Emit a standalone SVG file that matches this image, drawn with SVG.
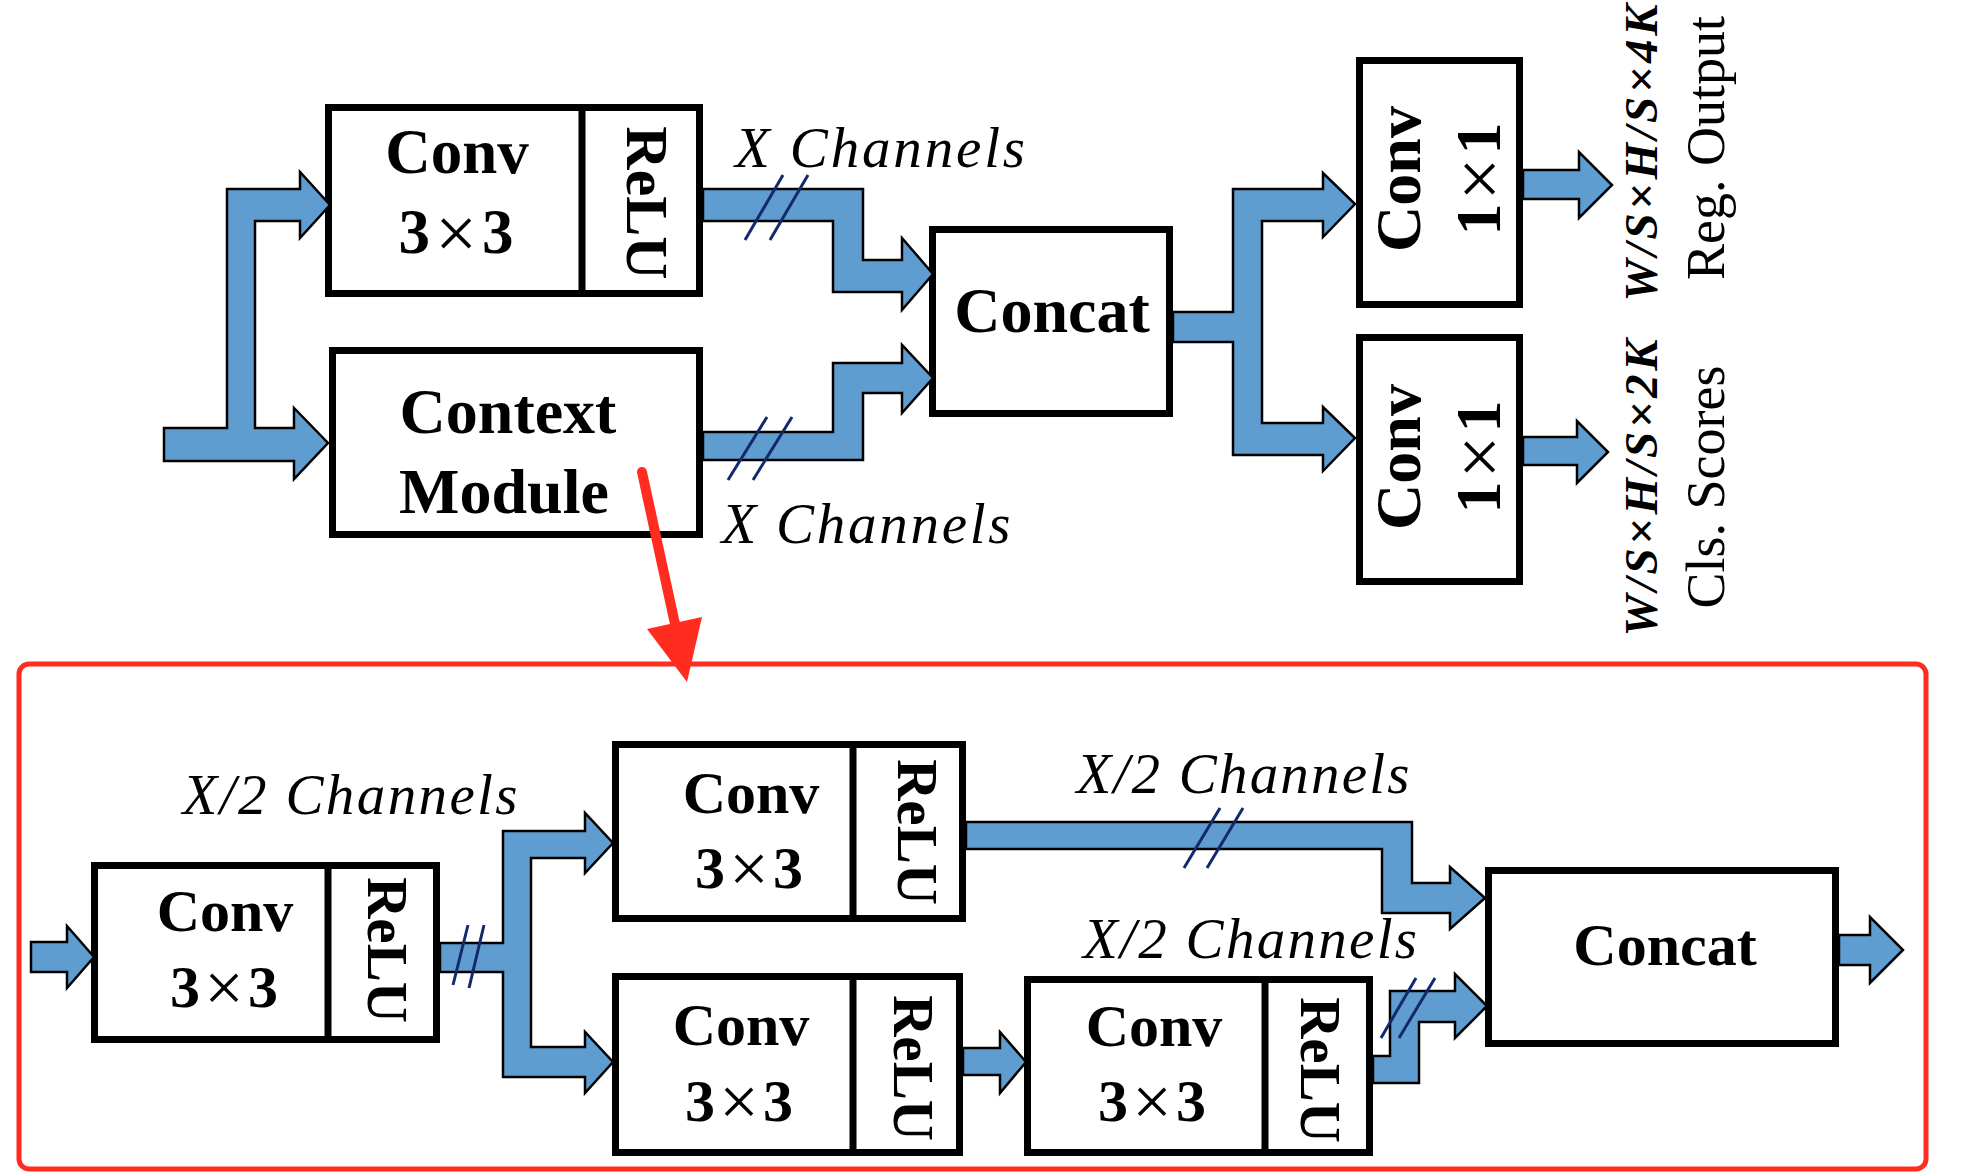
<svg xmlns="http://www.w3.org/2000/svg" width="1972" height="1174" viewBox="0 0 1972 1174">
<style>
.box{fill:#fff;stroke:#000;stroke-width:7}
.dv{stroke:#000;stroke-width:7}
.arr{fill:#5f9dd1;stroke:#000;stroke-width:2.5;stroke-linejoin:miter}
.sl{stroke:#13296b;stroke-width:3;fill:none}
.b{font-family:"Liberation Serif","Times New Roman",serif;font-weight:bold;fill:#000;text-anchor:middle}
.i{font-family:"Liberation Serif","Times New Roman",serif;font-style:italic;fill:#000;text-anchor:middle}
.r{font-family:"Liberation Serif","Times New Roman",serif;fill:#000;text-anchor:middle}
.bi{font-family:"Liberation Serif","Times New Roman",serif;font-weight:bold;font-style:italic;fill:#000;text-anchor:middle}
.x{font-weight:normal}
</style>
<rect width="1972" height="1174" fill="#fff"/>

<g id="context-frame">
<rect x="19" y="664" width="1907" height="505" rx="10" fill="none" stroke="#ff2c1f" stroke-width="5"/>
</g>

<g id="conv3x3-top">
<rect class="box" x="328.5" y="107.5" width="371" height="186"/>
<line class="dv" x1="582" y1="107.5" x2="582" y2="293.5"/>
<text class="b" x="457" y="173" font-size="63">Conv</text>
<text class="b" x="456" y="253" font-size="63" textLength="115" lengthAdjust="spacing">3<tspan class="x" font-size="74" dy="5">×</tspan><tspan dy="-5">3</tspan></text>
<text class="b" font-size="60" transform="translate(627,203) rotate(90)">ReLU</text>
</g>

<g id="context-module">
<rect class="box" x="332.5" y="350.5" width="367" height="184"/>
<text class="b" x="508" y="433" font-size="64">Context</text>
<text class="b" x="504" y="513" font-size="64">Module</text>
</g>

<g id="concat-top">
<rect class="box" x="932.5" y="229.5" width="237" height="184"/>
<text class="b" x="1052" y="332" font-size="64">Concat</text>
</g>

<g id="conv1x1-reg">
<rect class="box" x="1359.5" y="60.5" width="160" height="244"/>
<text class="b" font-size="64" transform="translate(1420,179) rotate(-90)">Conv</text>
<text class="b" font-size="64" textLength="113" lengthAdjust="spacing" transform="translate(1500,179) rotate(-90)">1<tspan class="x" font-size="76" dy="5">×</tspan><tspan dy="-5">1</tspan></text>
</g>

<g id="conv1x1-cls">
<rect class="box" x="1359.5" y="337.5" width="160" height="244"/>
<text class="b" font-size="64" transform="translate(1420,457) rotate(-90)">Conv</text>
<text class="b" font-size="64" textLength="113" lengthAdjust="spacing" transform="translate(1500,457) rotate(-90)">1<tspan class="x" font-size="76" dy="5">×</tspan><tspan dy="-5">1</tspan></text>
</g>

<g id="output-labels">
<text class="bi" font-size="47" textLength="297" lengthAdjust="spacing" transform="translate(1657,153) rotate(-90)">W/S×H/S×4K</text>
<text class="r" font-size="54" transform="translate(1724,148) rotate(-90)">Reg. Output</text>
<text class="bi" font-size="47" textLength="297" lengthAdjust="spacing" transform="translate(1657,488) rotate(-90)">W/S×H/S×2K</text>
<text class="r" font-size="54" transform="translate(1724,487) rotate(-90)">Cls. Scores</text>
</g>

<g id="cm-conv1">
<rect class="box" x="94.5" y="865.5" width="342" height="174"/>
<line class="dv" x1="328" y1="865.5" x2="328" y2="1039.5"/>
<text class="b" x="225" y="931" font-size="60">Conv</text>
<text class="b" x="224" y="1007" font-size="60" textLength="108" lengthAdjust="spacing">3<tspan class="x" font-size="70" dy="4">×</tspan><tspan dy="-4">3</tspan></text>
<text class="b" font-size="57" transform="translate(368,950) rotate(90)">ReLU</text>
</g>

<g id="cm-conv2">
<rect class="box" x="615.5" y="744.5" width="347" height="174"/>
<line class="dv" x1="853" y1="744.5" x2="853" y2="918.5"/>
<text class="b" x="751" y="813" font-size="60">Conv</text>
<text class="b" x="749" y="888" font-size="60" textLength="108" lengthAdjust="spacing">3<tspan class="x" font-size="70" dy="4">×</tspan><tspan dy="-4">3</tspan></text>
<text class="b" font-size="57" transform="translate(898,832) rotate(90)">ReLU</text>
</g>

<g id="cm-conv3">
<rect class="box" x="615.5" y="976.5" width="344" height="176"/>
<line class="dv" x1="853" y1="976.5" x2="853" y2="1152.5"/>
<text class="b" x="741" y="1045" font-size="60">Conv</text>
<text class="b" x="739" y="1121" font-size="60" textLength="108" lengthAdjust="spacing">3<tspan class="x" font-size="70" dy="4">×</tspan><tspan dy="-4">3</tspan></text>
<text class="b" font-size="57" transform="translate(894,1068) rotate(90)">ReLU</text>
</g>

<g id="cm-conv4">
<rect class="box" x="1027.5" y="979.5" width="342" height="173"/>
<line class="dv" x1="1265" y1="979.5" x2="1265" y2="1152.5"/>
<text class="b" x="1154" y="1046" font-size="60">Conv</text>
<text class="b" x="1152" y="1121" font-size="60" textLength="108" lengthAdjust="spacing">3<tspan class="x" font-size="70" dy="4">×</tspan><tspan dy="-4">3</tspan></text>
<text class="b" font-size="57" transform="translate(1301,1070) rotate(90)">ReLU</text>
</g>

<g id="cm-concat">
<rect class="box" x="1488.5" y="870.5" width="347" height="173"/>
<text class="b" x="1665" y="965" font-size="60">Concat</text>
</g>

<g id="connectors">
<path class="arr" d="M164,428 L227,428 L227,189 L300,189 L300,172 L330,205 L300,238 L300,221 L255,221 L255,428 L294,428 L294,408 L328,443 L294,479 L294,461 L164,461 Z"/>
<path class="arr" d="M703,189 L863,189 L863,260 L902,260 L902,238 L933,274 L902,310 L902,292 L833,292 L833,221 L703,221 Z"/>
<path class="arr" d="M703,432 L833,432 L833,363 L902,363 L902,345 L933,378 L902,413 L902,393 L863,393 L863,460 L703,460 Z"/>
<path class="arr" d="M1173,312 L1233,312 L1233,189 L1323,189 L1323,173 L1355,204 L1323,237 L1323,221 L1262,221 L1262,423 L1323,423 L1323,407 L1355,438 L1323,471 L1323,455 L1233,455 L1233,342 L1173,342 Z"/>
<path class="arr" d="M1523,170 L1579,170 L1579,152 L1612,185 L1579,218 L1579,199 L1523,199 Z"/>
<path class="arr" d="M1523,437 L1577,437 L1577,421 L1608,452 L1577,483 L1577,465 L1523,465 Z"/>
<line class="sl" x1="783" y1="175" x2="745" y2="240"/>
<line class="sl" x1="808" y1="175" x2="770" y2="240"/>
<line class="sl" x1="767" y1="417" x2="728" y2="480"/>
<line class="sl" x1="792" y1="417" x2="753" y2="480"/>
<text class="i" x="880" y="167" font-size="57" textLength="290" lengthAdjust="spacing">X Channels</text>
<text class="i" x="866" y="543" font-size="57" textLength="289" lengthAdjust="spacing">X Channels</text>

<path class="arr" d="M31,942 L67,942 L67,926 L94,957 L67,988 L67,972 L31,972 Z"/>
<path class="arr" d="M440,943 L503,943 L503,831 L585,831 L585,813 L613,843 L585,873 L585,858 L531,858 L531,1047 L585,1047 L585,1032 L613,1062 L585,1093 L585,1077 L503,1077 L503,972 L440,972 Z"/>
<path class="arr" d="M966,822 L1412,822 L1412,883 L1450,883 L1450,867 L1485,898 L1450,929 L1450,913 L1382,913 L1382,849 L966,849 Z"/>
<path class="arr" d="M963,1048 L1000,1048 L1000,1032 L1026,1062 L1000,1093 L1000,1075 L963,1075 Z"/>
<path class="arr" d="M1373,1056 L1390,1056 L1390,991 L1455,991 L1455,974 L1487,1006 L1455,1038 L1455,1022 L1419,1022 L1419,1083 L1373,1083 Z"/>
<path class="arr" d="M1839,935 L1870,935 L1870,917 L1903,950 L1870,983 L1870,965 L1839,965 Z"/>
<line class="sl" x1="468" y1="925" x2="453" y2="985"/>
<line class="sl" x1="484" y1="925" x2="469" y2="988"/>
<line class="sl" x1="1220" y1="808" x2="1184" y2="868"/>
<line class="sl" x1="1243" y1="808" x2="1207" y2="868"/>
<line class="sl" x1="1416" y1="978" x2="1381" y2="1038"/>
<line class="sl" x1="1435" y1="978" x2="1399" y2="1038"/>
<text class="i" x="350" y="814" font-size="57" textLength="335" lengthAdjust="spacing">X/2 Channels</text>
<text class="i" x="1243" y="793" font-size="57" textLength="333" lengthAdjust="spacing">X/2 Channels</text>
<text class="i" x="1250" y="958" font-size="57" textLength="334" lengthAdjust="spacing">X/2 Channels</text>

<line x1="642" y1="472" x2="675" y2="624" stroke="#ff2c1f" stroke-width="10" stroke-linecap="round"/>
<polygon points="647,629 702,617 687,682" fill="#ff2c1f"/>
</g>
</svg>
